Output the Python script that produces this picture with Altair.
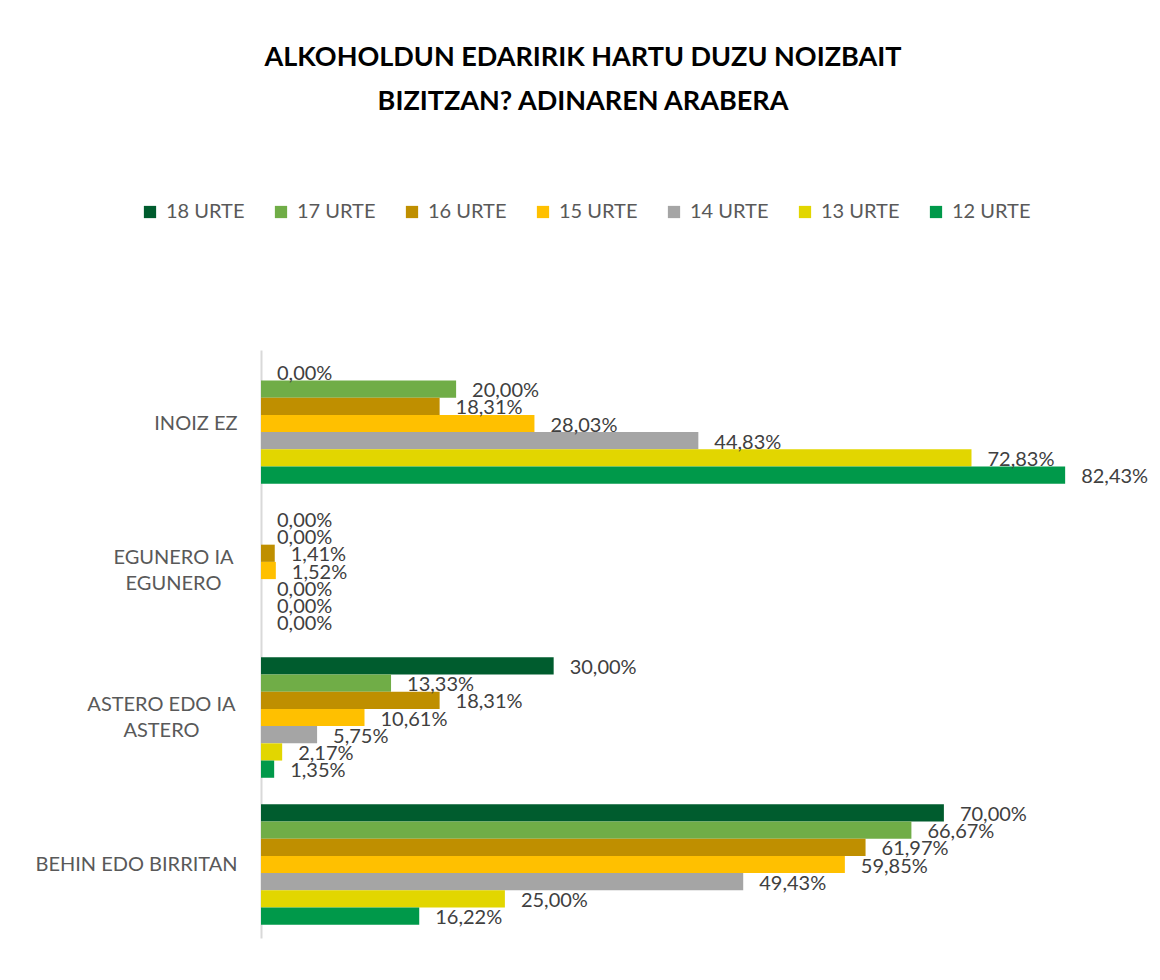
import altair as alt
import pandas as pd

categories = ["INOIZ EZ", "EGUNERO IA|EGUNERO", "ASTERO EDO IA|ASTERO", "BEHIN EDO BIRRITAN"]
series = ["18 URTE", "17 URTE", "16 URTE", "15 URTE", "14 URTE", "13 URTE", "12 URTE"]
colors = ["#005C2E", "#70AD47", "#BF8F00", "#FFC000", "#A5A5A5", "#E2D600", "#00994A"]

v18 = [0.00, 0.00, 30.00, 70.00]
v17 = [20.00, 0.00, 13.33, 66.67]
v16 = [18.31, 1.41, 18.31, 61.97]
v15 = [28.03, 1.52, 10.61, 59.85]
v14 = [44.83, 0.00, 5.75, 49.43]
v13 = [72.83, 0.00, 2.17, 25.00]
v12 = [82.43, 0.00, 1.35, 16.22]

all_vals = [v18, v17, v16, v15, v14, v13, v12]
rows = []
for s, vals in zip(series, all_vals):
    for c, v in zip(categories, vals):
        rows.append({"cat": c, "serie": s, "value": v / 100.0,
                     "label": f"{v:.2f}%".replace(".", ",")})
df = pd.DataFrame(rows)

FONT = "Lato"
multi = "indexof(datum.value, '|') >= 0"

y_enc = alt.Y("cat:N", sort=categories, title=None,
              scale=alt.Scale(paddingInner=0.18, paddingOuter=0.09),
              axis=alt.Axis(labelExpr="split(datum.label, '|')", labelFont=FONT,
                            labelFontSize=20, labelColor="#595959",
                            labelAlign={"condition": {"test": multi, "value": "center"}, "value": "right"},
                            labelPadding={"condition": [
                                {"test": "datum.value == 'EGUNERO IA|EGUNERO'", "value": 88},
                                {"test": "datum.value == 'ASTERO EDO IA|ASTERO'", "value": 100}],
                                "value": 24},
                            labelOffset={"condition": {"test": multi, "value": -13}, "value": 0},
                            labelLineHeight=26, ticks=False, domainColor="#D9D9D9",
                            domainWidth=2, labelLimit=300))
yoff = alt.YOffset("serie:N", sort=series,
                   scale=alt.Scale(paddingInner=0, paddingOuter=0))
x_enc = alt.X("value:Q", scale=alt.Scale(domain=[0, 0.9]), axis=None)

bars = alt.Chart(df).mark_bar().encode(
    y=y_enc,
    yOffset=yoff,
    x=x_enc,
    color=alt.Color("serie:N", sort=series,
                    scale=alt.Scale(domain=series, range=colors),
                    legend=alt.Legend(title=None, orient="none", direction="horizontal",
                                      legendX=-121, legendY=-148, symbolType="square",
                                      symbolSize=150, symbolStrokeWidth=0,
                                      labelFont=FONT, labelFontSize=20,
                                      labelColor="#595959", labelOffset=6,
                                      columnPadding=26, columns=7)),
)

labels = alt.Chart(df).mark_text(align="left", baseline="middle", dx=16, dy=2,
                                 font=FONT, fontSize=20, color="#404040").encode(
    y=alt.Y("cat:N", sort=categories),
    yOffset=yoff,
    x=x_enc,
    text="label:N",
)

chart = (bars + labels).properties(
    width=878,
    height=588,
    autosize=alt.AutoSizeParams(type="none"),
    padding={"left": 253, "top": 342, "right": 13, "bottom": 30},
    title=alt.TitleParams(
        text=["ALKOHOLDUN EDARIRIK HARTU DUZU NOIZBAIT", "BIZITZAN? ADINAREN ARABERA"],
        font=FONT, fontSize=27, fontWeight="bold", color="#000000",
        anchor="middle", dx=-117, offset=86, lineHeight=44,
    ),
).configure(background="#FFFFFF").configure_view(stroke=None)

chart.save("out.html", embed_options={"renderer": "svg", "actions": False})
